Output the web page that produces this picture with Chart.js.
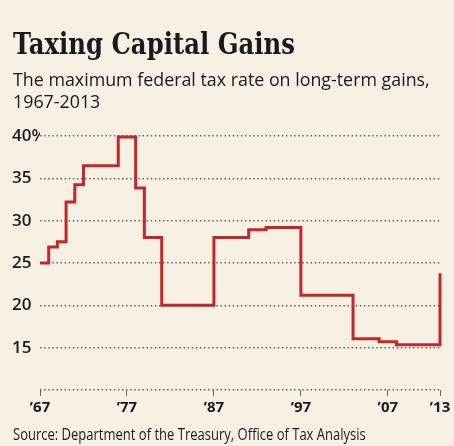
<!DOCTYPE html>
<html>
<head>
<meta charset="utf-8">
<script src="https://cdn.jsdelivr.net/npm/chart.js@4/dist/chart.umd.min.js"></script>
<style>
  html, body { margin: 0; padding: 0; background: #f6f0e5; }
  #wrap { position: relative; width: 454px; height: 446px; overflow: hidden; background: #f6f0e5; color: #1c1a19; }
  #chart { position: absolute; left: 0; top: 0; }
  .txt { position: absolute; left: 13px; white-space: nowrap; transform-origin: 0 0; margin: 0; }
  #title { top: 30px; font-family: "DejaVu Serif", serif; font-weight: bold; font-size: 29px; line-height: 1; }
  #subtitle { top: 69px; font-family: "Open Sans", sans-serif; font-size: 18px; line-height: 21.5px; }
  #source { top: 426px; font-family: "Open Sans", sans-serif; font-size: 16px; line-height: 1; }
</style>
</head>
<body>
<div id="wrap">
  <canvas id="chart" width="454" height="446"></canvas>
  <div class="txt" id="title" data-w="282">Taxing Capital Gains</div>
  <div class="txt" id="subtitle" data-w="417">The maximum federal tax rate on long-term gains,<br>1967-2013</div>
  <div class="txt" id="source" data-w="353">Source: Department of the Treasury, Office of Tax Analysis</div>
</div>
<script>
// Maximum federal tax rate on long-term capital gains, one value per year
const years = [
  1967, 1968, 1969, 1970, 1971, 1972, 1973, 1974, 1975, 1976,
  1977, 1978, 1979, 1980, 1981, 1982, 1983, 1984, 1985, 1986,
  1987, 1988, 1989, 1990, 1991, 1992, 1993, 1994, 1995, 1996,
  1997, 1998, 1999, 2000, 2001, 2002, 2003, 2004, 2005, 2006,
  2007, 2008, 2009, 2010, 2011, 2012, 2013
];
const rates = [
  25, 26.9, 27.5, 32.21, 34.25, 36.5, 36.5, 36.5, 36.5, 39.875,
  39.875, 33.85, 28, 28, 20, 20, 20, 20, 20, 20,
  28, 28, 28, 28, 28.93, 28.93, 29.19, 29.19, 29.19, 29.19,
  21.19, 21.19, 21.19, 21.19, 21.19, 21.19, 16.05, 16.05, 16.05, 15.7,
  15.7, 15.35, 15.35, 15.35, 15.35, 15.35, 23.8
];
const xTickYears = [1967, 1977, 1987, 1997, 2007, 2013];
const yTicks = [10, 15, 20, 25, 30, 35, 40];

const BG = '#f6f0e5';
const INK = '#1c1a19';
const RED = '#c3272b';
const DOTS = '#6a6560';

// squeeze the html texts to the widths seen in the print version
document.querySelectorAll('.txt').forEach(el => {
  const target = +el.dataset.w;
  const actual = el.scrollWidth;
  if (actual > 0) el.style.transform = 'scaleX(' + (target / actual) + ')';
});

new Chart(document.getElementById('chart').getContext('2d'), {
  type: 'line',
  data: {
    datasets: [{
      data: years.map((y, i) => ({ x: y, y: rates[i] })),
      borderColor: RED,
      borderWidth: 3,
      stepped: 'before',
      pointRadius: 0,
      borderCapStyle: 'butt',
      borderJoinStyle: 'miter',
      clip: false,
    }]
  },
  options: {
    responsive: false,
    animation: false,
    events: [],
    layout: { padding: { left: 12, right: 14, top: 136, bottom: 26 } },
    plugins: { legend: { display: false }, tooltip: { enabled: false }, title: { display: false } },
    scales: {
      x: {
        type: 'linear',
        min: 1967,
        max: 2013,
        afterBuildTicks: axis => { axis.ticks = xTickYears.map(v => ({ value: v })); },
        afterFit: axis => { axis.height = 30; },
        border: { display: false },
        grid: { drawOnChartArea: false, drawTicks: true, tickLength: 6, color: DOTS, lineWidth: 1 },
        ticks: {
          padding: 3,
          maxRotation: 0,
          autoSkip: false,
          color: INK,
          font: { family: '"Open Sans", sans-serif', size: 15, weight: 'bold' },
          callback: v => '\u2019' + String(v).slice(2),
        }
      },
      y: {
        min: 10,
        max: 40,
        afterBuildTicks: axis => { axis.ticks = yTicks.map(v => ({ value: v })); },
        afterFit: axis => { axis.width = 28; },
        border: { display: false, dash: [1.5, 2.6] },
        grid: { drawTicks: false, color: DOTS, lineWidth: 1.4 },
        ticks: {
          crossAlign: 'far',
          padding: 0,
          color: INK,
          showLabelBackdrop: true,
          backdropColor: BG,
          backdropPadding: { left: 0, right: 3, top: 0, bottom: 0 },
          font: { family: '"Open Sans", sans-serif', size: 17, weight: 600 },
          callback: v => v === 10 ? '' : (v === 40 ? '40%' : String(v)),
        }
      }
    }
  }
});
</script>
</body>
</html>
